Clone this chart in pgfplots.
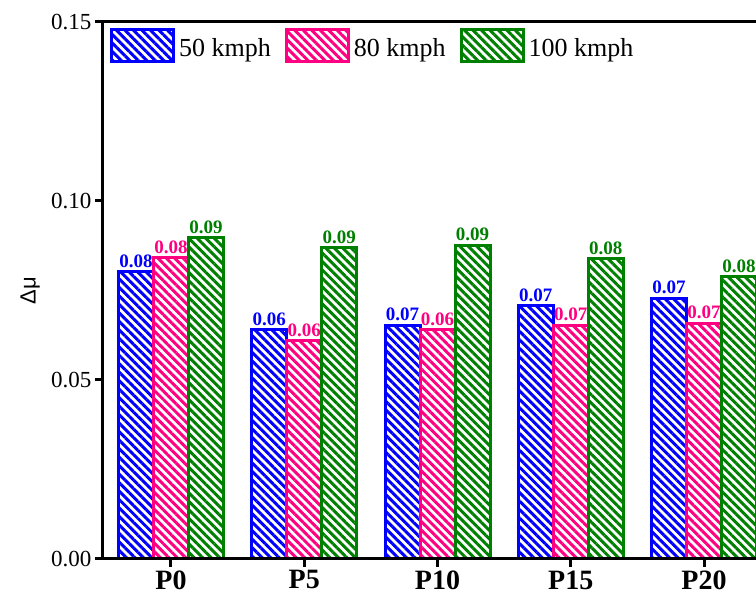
\documentclass[border=0pt]{standalone}
\usepackage{fontspec}
\setmainfont{Liberation Serif}
\newfontfamily\arialfont{Liberation Sans}
\usepackage{pgfplots}
\pgfplotsset{compat=1.18}
\usetikzlibrary{patterns.meta}
\definecolor{cblue}{RGB}{0,0,255}
\definecolor{cpink}{RGB}{255,0,128}
\definecolor{cgreen}{RGB}{0,128,0}
\pgfplotsset{/pgf/number format/assume math mode=true}
\begin{document}
\begin{tikzpicture}
\useasboundingbox (-103pt,-42pt) rectangle (653pt,559pt);
\clip (-103pt,-42pt) rectangle (653pt,559pt);
\begin{axis}[
  at={(0pt,0pt)}, anchor=south west,
  scale only axis, width=669pt, height=537pt,
  ybar=0pt, bar width=35pt,
  xmin=-0.51, xmax=4.51, ymin=0, ymax=0.15,
  enlargelimits=false,
  xtick={0,1,2,3,4},
  xticklabels={P0,P5,P10,P15,P20},
  ytick={0,0.05,0.10,0.15},
  scaled y ticks=false,
  yticklabel style={/pgf/number format/fixed,/pgf/number format/fixed zerofill,/pgf/number format/precision=2, font=\fontsize{23}{27}\selectfont},
  xticklabel style={font=\fontsize{28}{32}\selectfont\bfseries},
  tick align=outside, major tick length=8pt,
  xtick pos=bottom, ytick pos=left,
  major tick style={black, line width=3pt},
  axis line style={black, line width=3pt},
  axis on top,
  ylabel={\arialfont\fontsize{22}{26}\selectfont Δμ},
  ylabel style={at={(axis description cs:-0.109,0.5)}, anchor=center},
  nodes near coords={\pgfmathprintnumber[fixed,fixed zerofill,precision=2]{\pgfplotspointmeta}},
  every node near coord/.append style={font=\fontsize{19}{22}\selectfont\bfseries, inner sep=2pt, yshift=1pt},
  legend image code/.code={\draw[#1] (0pt,-13pt) rectangle (62pt,19pt);},
  legend columns=-1,
  legend style={at={(0,1)}, anchor=north west, xshift=7pt, yshift=-6pt, draw=none, fill=none,
    font=\fontsize{26}{30}\selectfont, inner sep=0pt,
    nodes={inner sep=4pt},
    /tikz/every even column/.append style={column sep=10pt}},
]
\addplot[draw=cblue, line width=3pt, pattern={Lines[angle=-45,distance=6pt,line width=3pt]}, pattern color=cblue,
  every node near coord/.append style={text=cblue}]
  coordinates {(0,0.0802) (1,0.0640) (2,0.0652) (3,0.0707) (4,0.0729)};
\addplot[draw=cpink, line width=3pt, pattern={Lines[angle=-45,distance=6pt,line width=3pt]}, pattern color=cpink,
  every node near coord/.append style={text=cpink}]
  coordinates {(0,0.0841) (1,0.0609) (2,0.0640) (3,0.0652) (4,0.0659)};
\addplot[draw=cgreen, line width=3pt, pattern={Lines[angle=-45,distance=6pt,line width=3pt]}, pattern color=cgreen,
  every node near coord/.append style={text=cgreen}]
  coordinates {(0,0.0897) (1,0.0869) (2,0.0877) (3,0.0838) (4,0.0788)};
\legend{50 kmph, 80 kmph, 100 kmph}
\end{axis}
\end{tikzpicture}
\end{document}
